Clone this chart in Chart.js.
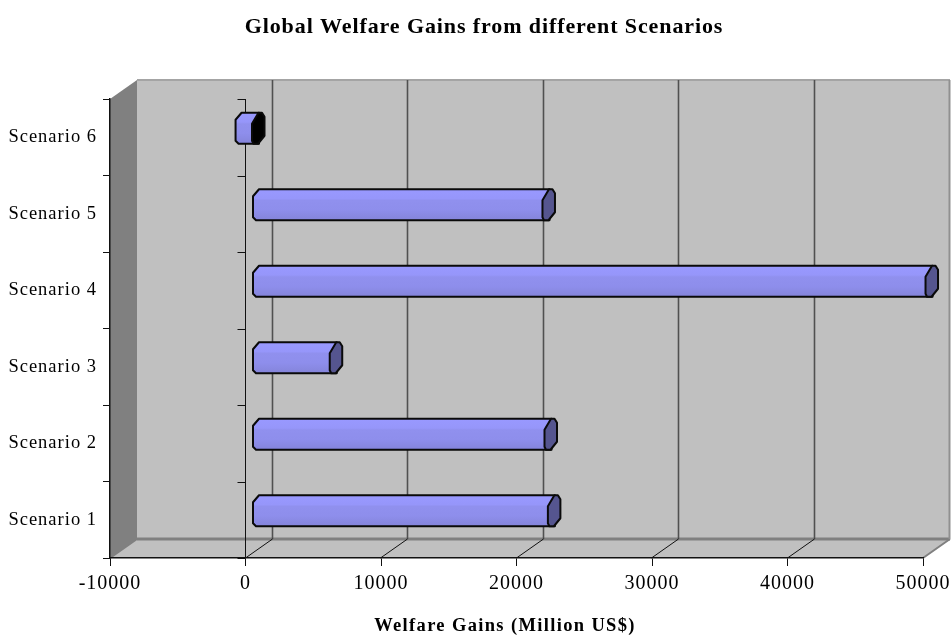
<!DOCTYPE html>
<html>
<head>
<meta charset="utf-8">
<title>Global Welfare Gains</title>
<script src="https://cdn.jsdelivr.net/npm/chart.js@4"></script>
<style>
  html, body { margin: 0; padding: 0; background: #fff; }
  canvas { display: block; }
</style>
</head>
<body>
<canvas id="chart" width="952" height="637"></canvas>
<script>
const scenarios = ["Scenario 1", "Scenario 2", "Scenario 3", "Scenario 4", "Scenario 5", "Scenario 6"];
const gains = [21800, 21550, 5700, 49670, 21400, -1250];
const xTicks = [-10000, 0, 10000, 20000, 30000, 40000, 50000];

const chartTitle = "Global Welfare Gains from different Scenarios";
const xAxisTitle = "Welfare Gains (Million US$)";

// how far the back wall sits from the front plane
const DEPTH_X = 27;
const DEPTH_Y = -19;

const serif = "'Liberation Serif', 'Times New Roman', serif";

function poly(ctx, pts) {
  ctx.beginPath();
  pts.forEach((p, i) => (i ? ctx.lineTo(p[0], p[1]) : ctx.moveTo(p[0], p[1])));
  ctx.closePath();
}

// octagonal tube sitting a quarter of the way into the depth
class TubeBar extends Chart.BarElement {
  static id = "tubeBar";
  static defaults = Chart.BarElement.defaults;

  draw(ctx) {
    const { x, y, base, height } = this.getProps(["x", "y", "base", "height"]);
    const left = Math.min(x, base) + 7;
    const right = Math.max(x, base) + 7;
    const top = y + DEPTH_Y / 2 - height / 2 + 0.5;
    const bottom = top + height;

    ctx.save();
    ctx.lineWidth = 2;
    ctx.lineJoin = "round";
    ctx.strokeStyle = "#0a0a0a";

    const fill = ctx.createLinearGradient(0, top, 0, bottom);
    fill.addColorStop(0, "#9999ff");
    fill.addColorStop(0.3, "#9696fa");
    fill.addColorStop(0.36, "#9090ee");
    fill.addColorStop(0.66, "#8e8eec");
    fill.addColorStop(1, "#8484da");
    ctx.fillStyle = fill;
    poly(ctx, [
      [left + 6, top], [right + 7, top], [right + 7, bottom], [left + 3, bottom],
      [left, bottom - 3], [left, top + 7],
    ]);
    ctx.fill();
    ctx.stroke();

    // end cap; a negative bar shows the dark inside of the tube
    ctx.fillStyle = x < base ? "#000000" : "#55558f";
    poly(ctx, [
      [right, top + 11], [right + 6.5, top], [right + 10, top], [right + 12.5, top + 4],
      [right + 12.5, top + 23], [right + 6, bottom], [right + 1.5, bottom], [right, bottom - 3],
    ]);
    ctx.fill();
    ctx.stroke();
    ctx.restore();
  }
}

class TubeBarController extends Chart.BarController {
  static id = "tubeBars";
  static defaults = { ...Chart.BarController.defaults, dataElementType: "tubeBar" };
  static overrides = Chart.BarController.overrides;
}

Chart.register(TubeBar, TubeBarController);

function drawHeading(ctx, text, size, spacing, x, y) {
  ctx.save();
  ctx.letterSpacing = spacing + "px";
  ctx.font = "bold " + size + "px " + serif;
  ctx.fillStyle = "#000";
  ctx.textAlign = "center";
  ctx.textBaseline = "middle";
  ctx.fillText(text, x, y);
  ctx.restore();
}

// walls, floor and the gridlines on the back wall
const box3d = {
  id: "box3d",
  beforeDraw(chart) {
    const { ctx, chartArea: a, scales } = chart;
    const bx = DEPTH_X, by = DEPTH_Y;
    ctx.letterSpacing = "1px";
    ctx.save();

    ctx.fillStyle = "#c0c0c0";
    ctx.fillRect(a.left + bx, a.top + by, a.right - a.left, a.bottom - a.top);
    poly(ctx, [
      [a.left, a.bottom], [a.left + bx, a.bottom + by],
      [a.right + bx, a.bottom + by], [a.right, a.bottom],
    ]);
    ctx.fill();

    ctx.fillStyle = "#808080";
    poly(ctx, [
      [a.left, a.top], [a.left + bx, a.top + by],
      [a.left + bx, a.bottom + by], [a.left, a.bottom],
    ]);
    ctx.fill();

    // back wall edges
    ctx.strokeStyle = "#a4a4a4";
    ctx.lineWidth = 2;
    ctx.beginPath();
    ctx.moveTo(a.left + bx, a.top + by);
    ctx.lineTo(a.right + bx, a.top + by);
    ctx.stroke();
    ctx.strokeStyle = "#808080";
    ctx.lineWidth = 3;
    ctx.beginPath();
    ctx.moveTo(a.left + bx, a.bottom + by);
    ctx.lineTo(a.right + bx, a.bottom + by);
    ctx.stroke();
    ctx.lineWidth = 2;
    ctx.beginPath();
    ctx.moveTo(a.left, a.bottom);
    ctx.lineTo(a.left + bx, a.bottom + by);
    ctx.moveTo(a.right, a.bottom);
    ctx.lineTo(a.right + bx, a.bottom + by);
    ctx.stroke();

    xTicks.slice(1).forEach((v) => {
      const px = Math.round(scales.x.getPixelForValue(v)) - 0.5;
      const last = v === xTicks[xTicks.length - 1];
      ctx.strokeStyle = last ? "#909090" : "#505050";
      ctx.lineWidth = last ? 2 : 1.6;
      ctx.beginPath();
      ctx.moveTo(px + bx, a.top + by);
      ctx.lineTo(px + bx, a.bottom + by);
      ctx.stroke();
      if (last) return;
      ctx.strokeStyle = "#111";
      ctx.lineWidth = 1;
      ctx.beginPath();
      ctx.moveTo(px, a.bottom);
      ctx.lineTo(px + bx, a.bottom + by);
      ctx.stroke();
    });

    // value axis at zero, with the category ticks on it
    const zero = Math.round(scales.x.getPixelForValue(0)) - 0.5;
    ctx.strokeStyle = "#111";
    ctx.lineWidth = 1;
    ctx.beginPath();
    ctx.moveTo(zero, a.top);
    ctx.lineTo(zero, a.bottom);
    for (let i = 0; i <= scenarios.length; i++) {
      const py = Math.round(a.top + (i * (a.bottom - a.top)) / scenarios.length) + 0.5;
      ctx.moveTo(zero - 8, py);
      ctx.lineTo(zero, py);
    }
    ctx.stroke();
    ctx.restore();
  },
  afterDraw(chart) {
    drawHeading(chart.ctx, chartTitle, 22, 0.9, 484, 27);
    drawHeading(chart.ctx, xAxisTitle, 18.5, 1.35, 505, 626);
  },
};

new Chart(document.getElementById("chart"), {
  type: "tubeBars",
  data: {
    labels: scenarios,
    datasets: [{ data: gains, barThickness: 31, clip: false }],
  },
  options: {
    indexAxis: "y",
    responsive: false,
    animation: false,
    layout: { padding: { left: 0, right: 29, top: 99, bottom: 0 } },
    plugins: {
      legend: { display: false },
      tooltip: { enabled: false },
    },
    scales: {
      x: {
        type: "linear",
        min: -10000,
        max: 50000,
        afterBuildTicks(scale) {
          scale.ticks = xTicks.map((value) => ({ value }));
        },
        afterFit(scale) {
          scale.height = 79;
          scale.paddingLeft = 0;
          scale.paddingRight = 0;
        },
        grid: { drawOnChartArea: false, tickLength: 8, color: "#111", tickColor: "#111" },
        border: { color: "#111", width: 1.5 },
        ticks: {
          color: "#000",
          font: { family: serif, size: 20 },
          padding: 6,
          maxRotation: 0,
          autoSkip: false,
          callback: (v) => String(v),
        },
      },
      y: {
        type: "category",
        reverse: true,
        offset: true,
        afterFit(scale) {
          scale.width = 110;
        },
        grid: { offset: true, drawOnChartArea: false, tickLength: 7, color: "#111", tickColor: "#111" },
        border: { color: "#111", width: 1.5 },
        ticks: {
          color: "#000",
          font: { family: serif, size: 18.5 },
          padding: 6,
          autoSkip: false,
        },
      },
    },
  },
  plugins: [box3d],
});
</script>
</body>
</html>
